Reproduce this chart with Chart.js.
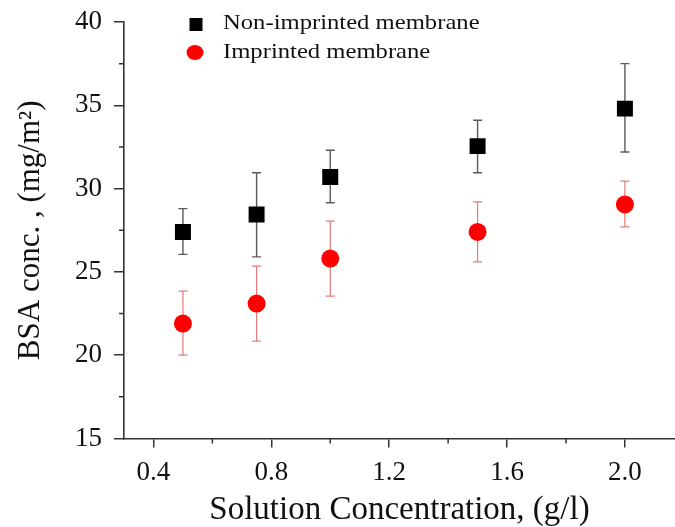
<!DOCTYPE html>
<html>
<head>
<meta charset="utf-8">
<script src="https://cdn.jsdelivr.net/npm/chart.js@4.4.1/dist/chart.umd.min.js"></script>
<style>
html,body{margin:0;padding:0;background:#fff;}
#wrap{width:675px;height:527px;position:relative;}
</style>
</head>
<body>
<div id="wrap"><canvas id="c" width="675" height="527"></canvas></div>
<script>
// ---- data ----
const concentrations = [0.5, 0.75, 1.0, 1.5, 2.0];
const nonImprinted = [27.4, 28.45, 30.7, 32.55, 34.8];
const nonImprintedLow = [26.05, 25.9, 29.15, 30.95, 32.2];
const nonImprintedHigh = [28.8, 30.95, 32.3, 34.1, 37.5];
const imprinted = [21.9, 23.1, 25.8, 27.4, 29.05];
const imprintedLow = [20.0, 20.85, 23.55, 25.6, 27.7];
const imprintedHigh = [23.85, 25.35, 28.05, 29.2, 30.45];
const xTicks = [0.4, 0.8, 1.2, 1.6, 2.0];
const xMinorTicks = [0.6, 1.0, 1.4, 1.8];
const yTicks = [15, 20, 25, 30, 35, 40];
const yMinorTicks = [17.5, 22.5, 27.5, 32.5, 37.5];
const seriesNames = ['Non-imprinted membrane', 'Imprinted membrane'];

const FONT = "'Liberation Serif', 'Times New Roman', serif";

function pts(xs, ys){ return xs.map((x,i)=>({x:x, y:ys[i]})); }

const errorBars = {
  id: 'errorBars',
  beforeDatasetsDraw(chart){
    const ctx = chart.ctx, xs = chart.scales.x, ys = chart.scales.y;
    const sets = [
      {lo: nonImprintedLow, hi: nonImprintedHigh, color: '#5a5a5a', w: 1.4},
      {lo: imprintedLow, hi: imprintedHigh, color: '#e47a7a', w: 1.2}
    ];
    ctx.save();
    sets.forEach(s=>{
      ctx.strokeStyle = s.color; ctx.lineWidth = s.w;
      concentrations.forEach((c,i)=>{
        const px = xs.getPixelForValue(c);
        const y1 = ys.getPixelForValue(s.lo[i]);
        const y2 = ys.getPixelForValue(s.hi[i]);
        ctx.beginPath();
        ctx.moveTo(px, y1); ctx.lineTo(px, y2);
        ctx.moveTo(px-4.5, y1); ctx.lineTo(px+4.5, y1);
        ctx.moveTo(px-4.5, y2); ctx.lineTo(px+4.5, y2);
        ctx.stroke();
      });
    });
    ctx.restore();
  }
};

const minorTicks = {
  id: 'minorTicks',
  afterDraw(chart){
    const ctx = chart.ctx, xs = chart.scales.x, ys = chart.scales.y, a = chart.chartArea;
    ctx.save();
    ctx.strokeStyle = '#333'; ctx.lineWidth = 1.5;
    ctx.beginPath();
    xMinorTicks.forEach(v=>{ const p = xs.getPixelForValue(v); ctx.moveTo(p, a.bottom); ctx.lineTo(p, a.bottom+5); });
    yMinorTicks.forEach(v=>{ const p = ys.getPixelForValue(v); ctx.moveTo(a.left, p); ctx.lineTo(a.left-5, p); });
    ctx.stroke();
    // legend
    const lx = a.left + 72, ly1 = a.top + 1.5, ly2 = a.top + 30.5;
    ctx.fillStyle = '#000';
    ctx.fillRect(lx - 6.5, ly1 - 5.5, 13, 13);
    ctx.fillStyle = '#ff0000';
    ctx.beginPath(); ctx.ellipse(lx - 1, ly2, 8.5, 7.5, 0, 0, Math.PI*2); ctx.fill();
    ctx.fillStyle = '#111';
    ctx.font = "22px " + FONT;
    ctx.textBaseline = 'middle'; ctx.textAlign = 'left';
    [seriesNames[0], seriesNames[1]].forEach((t, i)=>{
      ctx.save();
      ctx.translate(lx + 27, i === 0 ? ly1 : ly2);
      ctx.scale(1.12, 1);
      ctx.fillText(t, 0, 0);
      ctx.restore();
    });
    ctx.restore();
  }
};

new Chart(document.getElementById('c'), {
  type: 'scatter',
  data: {
    datasets: [
      {label: seriesNames[0], data: pts(concentrations, nonImprinted), pointStyle: 'rect',
       pointRadius: 11.3, pointHoverRadius: 11.3, backgroundColor: '#000', borderColor: '#000', borderWidth: 0},
      {label: seriesNames[1], data: pts(concentrations, imprinted), pointStyle: 'circle',
       pointRadius: 9, pointHoverRadius: 9, backgroundColor: '#ff0000', borderColor: '#ff0000', borderWidth: 0}
    ]
  },
  options: {
    responsive: false,
    animation: false,
    events: [],
    layout: {autoPadding: false, padding: {top: 22, right: 0, left: 0, bottom: 0}},
    plugins: {legend: {display: false}, tooltip: {enabled: false}},
    scales: {
      x: {
        type: 'linear', min: 0.3, max: 2.17,
        afterBuildTicks(s){ s.ticks = xTicks.map(v=>({value: v})); },
        afterFit(s){ s.height = 88.5; s.paddingLeft = 0; s.paddingRight = 0; },
        grid: {drawOnChartArea: false, drawTicks: true, tickLength: 9, color: '#333', lineWidth: 1.5},
        border: {display: true, color: '#333', width: 1.6},
        ticks: {color: '#111', font: {family: FONT, size: 27}, padding: 9, maxRotation: 0,
                callback: v => v.toFixed(1)},
        title: {display: true, text: 'Solution Concentration, (g/l)', color: '#111',
                font: {family: FONT, size: 33, lineHeight: 1.0}, padding: {top: 0, bottom: 0}}
      },
      y: {
        type: 'linear', min: 15, max: 40,
        afterBuildTicks(s){ s.ticks = yTicks.map(v=>({value: v})); },
        afterFit(s){ s.width = 124; s.paddingTop = 0; s.paddingBottom = 0; },
        grid: {drawOnChartArea: false, drawTicks: true, tickLength: 10, color: '#333', lineWidth: 1.5},
        border: {display: true, color: '#333', width: 1.6},
        ticks: {color: '#111', font: {family: FONT, size: 27}, padding: 12},
        title: {display: true, text: 'BSA conc. , (mg/m²)', color: '#111',
                font: {family: FONT, size: 31, lineHeight: 1.0}, padding: {top: 15, bottom: 0}}
      }
    }
  },
  plugins: [errorBars, minorTicks]
});
</script>
</body>
</html>
